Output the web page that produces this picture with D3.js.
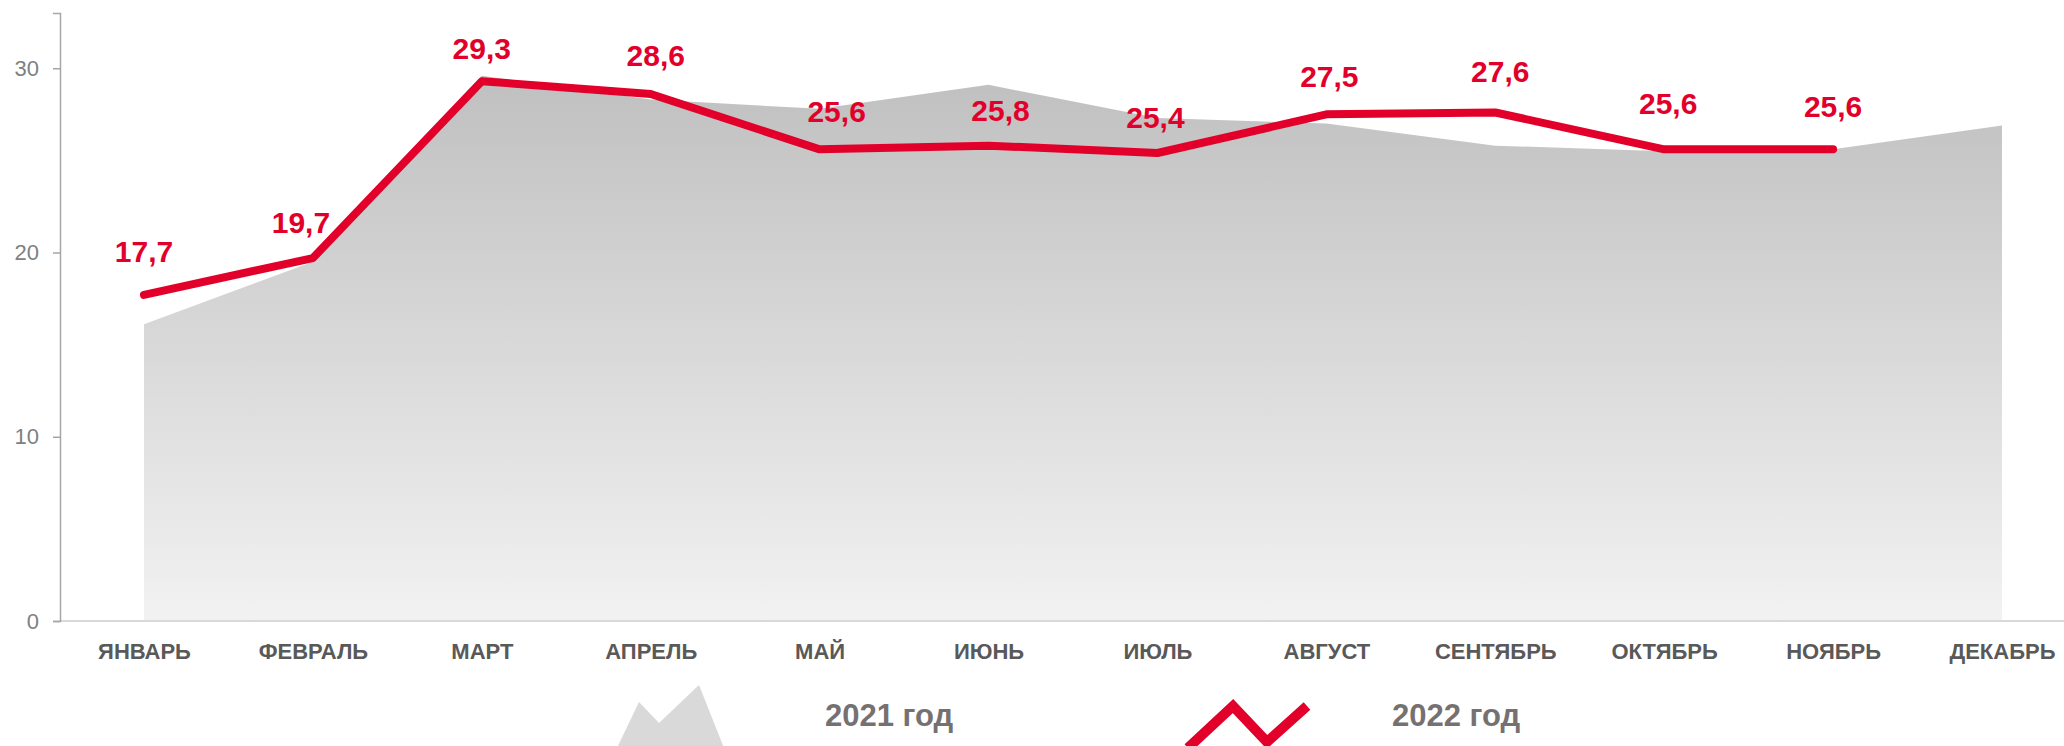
<!DOCTYPE html>
<html>
<head>
<meta charset="utf-8">
<script src="https://cdnjs.cloudflare.com/ajax/libs/d3/7.8.5/d3.min.js"></script>
<style>
  body { margin: 0; background: #fff; }
  text { font-family: "Liberation Sans", Arial, sans-serif; }
</style>
</head>
<body>
<div id="chart"></div>
<script>

// data
const months = ["ЯНВАРЬ", "ФЕВРАЛЬ", "МАРТ", "АПРЕЛЬ", "МАЙ", "ИЮНЬ",
                "ИЮЛЬ", "АВГУСТ", "СЕНТЯБРЬ", "ОКТЯБРЬ", "НОЯБРЬ", "ДЕКАБРЬ"];
const values2021 = [16.1, 19.5, 29.6, 28.3, 27.8, 29.1, 27.3, 27.0, 25.8, 25.5, 25.6, 26.9];
const values2022 = [17.7, 19.7, 29.3, 28.6, 25.6, 25.8, 25.4, 27.5, 27.6, 25.6, 25.6];
const yTicks = [0, 10, 20, 30];
const seriesNames = ["2021 год", "2022 год"];

// label nudges, like the hand placed labels of the original
const labelDx = [0, -12, 0, 5, 17, 12, -2, 3, 5, 4, 0];
const labelDy = [-44, -36, -33, -39, -38, -35, -36, -38, -41, -46, -43];

const width = 2064;
const height = 746;
const margin = {top: 13, left: 60, bottom: 125};
const red = "#e2002b";

const ru = d3.formatLocale({decimal: ",", thousands: " ", grouping: [3], currency: ["", ""]});
const fmt = ru.format(".1f");

const x = d3.scalePoint()
    .domain(months)
    .range([144, 2002]);

const y = d3.scaleLinear()
    .domain([0, 33])
    .range([height - margin.bottom, margin.top]);

const svg = d3.select("#chart")
  .append("svg")
    .attr("width", width)
    .attr("height", height);

// gradient for the 2021 area
const grad = svg.append("defs").append("linearGradient")
    .attr("id", "areaGrad")
    .attr("gradientUnits", "userSpaceOnUse")
    .attr("x1", 0).attr("x2", 0)
    .attr("y1", y(30)).attr("y2", y(0));
grad.append("stop").attr("offset", 0).attr("stop-color", "#bfbfbf");
grad.append("stop").attr("offset", 1).attr("stop-color", "#f2f2f2");

const area = d3.area()
    .x((d, i) => x(months[i]))
    .y0(y(0))
    .y1(d => y(d));

svg.append("path")
    .datum(values2021)
    .attr("d", area)
    .attr("fill", "url(#areaGrad)");

// x axis: light baseline + month names
svg.append("line")
    .attr("x1", margin.left).attr("x2", width)
    .attr("y1", y(0)).attr("y2", y(0))
    .attr("stroke", "#d9d9d9")
    .attr("stroke-width", 2);

const xAxis = svg.append("g")
    .attr("transform", `translate(0,${y(0)})`)
    .call(d3.axisBottom(x).tickSize(0).tickPadding(22));
xAxis.select(".domain").remove();
xAxis.selectAll("text")
    .attr("font-family", "Liberation Sans, Arial, sans-serif")
    .attr("font-size", 22)
    .attr("font-weight", "bold")
    .attr("fill", "#595959");

// y axis
const yAxis = svg.append("g")
    .attr("transform", `translate(${margin.left},0)`)
    .call(d3.axisLeft(y).tickValues(yTicks).tickSize(7).tickPadding(14));
yAxis.select(".domain").attr("stroke", "#a6a6a6").attr("stroke-width", 1.5);
yAxis.selectAll(".tick line").attr("stroke", "#a6a6a6").attr("stroke-width", 1.5);
yAxis.selectAll("text")
    .attr("font-family", "Liberation Sans, Arial, sans-serif")
    .attr("font-size", 22)
    .attr("fill", "#808080");

// 2022 line
const line = d3.line()
    .x((d, i) => x(months[i]))
    .y(d => y(d));

svg.append("path")
    .datum(values2022)
    .attr("d", line)
    .attr("fill", "none")
    .attr("stroke", red)
    .attr("stroke-width", 8)
    .attr("stroke-linejoin", "round")
    .attr("stroke-linecap", "round");

svg.append("g")
  .selectAll("text")
  .data(values2022)
  .join("text")
    .attr("x", (d, i) => x(months[i]) + labelDx[i])
    .attr("y", (d, i) => y(d) + labelDy[i])
    .attr("dy", "0.36em")
    .attr("text-anchor", "middle")
    .attr("font-size", 30)
    .attr("font-weight", "bold")
    .attr("fill", red)
    .text(d => fmt(d));

// legend
const legend = svg.append("g");

legend.append("path")
    .attr("d", "M617,748 L639,702 L659,723 L699,685 L724,748 Z")
    .attr("fill", "#d9d9d9");

legend.append("path")
    .attr("d", "M1188,748 L1233,706 L1267,742 L1307,706")
    .attr("fill", "none")
    .attr("stroke", red)
    .attr("stroke-width", 10);

legend.selectAll("text")
  .data(seriesNames)
  .join("text")
    .attr("x", (d, i) => i === 0 ? 825 : 1392)
    .attr("y", 726)
    .attr("font-size", 31)
    .attr("font-weight", "bold")
    .attr("fill", "#767171")
    .text(d => d);

</script>
</body>
</html>
